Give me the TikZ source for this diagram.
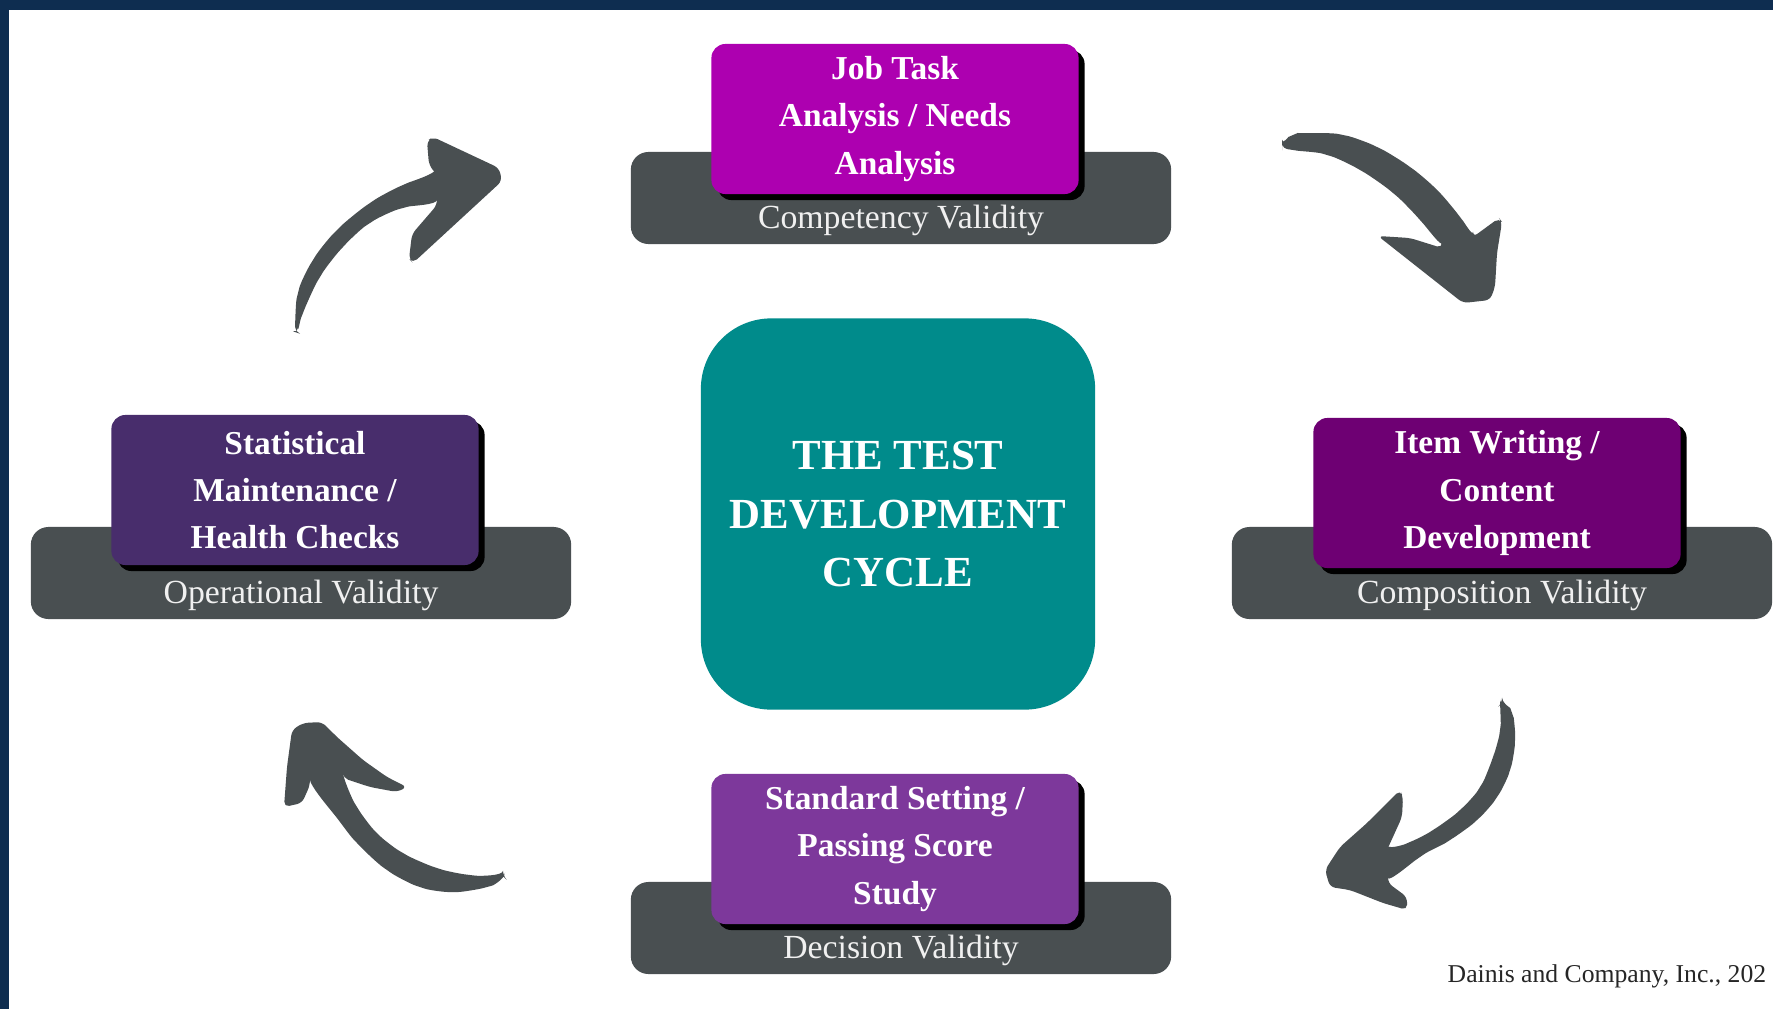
\documentclass[tikz,border=0pt]{standalone}
\usepackage{fontspec}
\setmainfont{Liberation Serif}
\usetikzlibrary{positioning,shadows}
\definecolor{tdnavy}{RGB}{14,45,80}
\definecolor{tdgray}{RGB}{73,79,81}
\definecolor{tdmagenta}{RGB}{173,0,176}
\definecolor{tdplum}{RGB}{110,0,115}
\definecolor{tdviolet}{RGB}{125,56,155}
\definecolor{tdindigo}{RGB}{72,45,108}
\definecolor{tdteal}{RGB}{0,139,139}
\tikzset{
  stage/.style={rounded corners=4pt, minimum width=3.67cm, minimum height=1.5cm,
    align=center, text=white, inner sep=0pt,
    font=\fontsize{9.5}{13.4}\selectfont\bfseries,
    drop shadow={shadow xshift=0.06cm, shadow yshift=-0.06cm, fill=black, opacity=1}},
  bar/.style={fill=tdgray, rounded corners=5pt, minimum width=5.4cm,
    minimum height=0.92cm, inner sep=0pt},
  validity/.style={text=white!94!black, font=\fontsize{9.6}{11}\selectfont, inner sep=0pt},
  core/.style={fill=tdteal, rounded corners=20pt, minimum width=3.94cm,
    minimum height=3.91cm, align=center, text=white,
    font=\fontsize{12.2}{16.6}\selectfont\bfseries},
  turn/.style={fill=tdgray, rounded corners=1.5pt}
}

\begin{document}
\begin{tikzpicture}[x=0.01cm, y=-0.01cm]
% page and frame
\fill[white] (0,0) rectangle (1773,1009);
\fill[tdnavy] (0,0) rectangle (1773,10);
\fill[tdnavy] (0,0) rectangle (9,1009);
\useasboundingbox (0,0) rectangle (1773,1009);

% validity bars
\node[bar] (topbar) at (901,198) {};
\node[bar] (rightbar) at (1502,573) {};
\node[bar] (botbar) at (901,928) {};
\node[bar] (leftbar) at (301,573) {};

% stages of the cycle
\node[stage, fill=tdmagenta] (jta) at (895,119) {Job Task\\Analysis / Needs\\Analysis};
\node[stage, fill=tdplum] (item) at (1497,493) {Item Writing /\\Content\\Development};
\node[stage, fill=tdviolet] (std) at (895,849) {Standard Setting /\\Passing Score\\Study};
\node[stage, fill=tdindigo] (stat) at (295,490) {Statistical\\Maintenance /\\Health Checks};

\node[validity, above=0.08cm of topbar.south] (topval) {Competency Validity};
\node[validity, above=0.08cm of rightbar.south] (rightval) {Composition Validity};
\node[validity, above=0.08cm of botbar.south] (botval) {Decision Validity};
\node[validity, above=0.08cm of leftbar.south] (leftval) {Operational Validity};

% centre
\node[core] (cycle) at (898,514) {THE TEST\\DEVELOPMENT\\CYCLE};

% curved arrows
\fill[turn] plot[smooth] coordinates {(295,332) (298,293) (313,260) (337,230) (370,203) (403,185) (436,174)}
  -- (429,165) -- (427,141) -- (433,137) -- (499,168) -- (502,181) -- (413,263) -- (409,259) -- (412,234)
  -- plot[smooth] coordinates {(437,205) (403,208) (370,223) (343,247) (320,277) (303,313) (298,333)} -- cycle;

\fill[turn] plot[smooth] coordinates {(1282,145) (1293,135) (1310,133) (1343,135) (1377,147) (1410,167) (1437,190) (1460,217) (1473,237)}
  -- (1499,218) -- (1502,222) -- (1497,253) -- (1495,287) -- (1490,300) -- (1463,303) -- (1378,236) -- (1410,238)
  -- plot[smooth] coordinates {(1442,248) (1420,220) (1393,193) (1360,170) (1327,155) (1293,150) (1282,148)} -- cycle;

\fill[turn] plot[smooth] coordinates {(1502,703) (1512,713) (1515,740) (1510,770) (1497,797) (1477,820) (1450,840) (1420,857) (1388,883)}
  -- (1407,897) -- (1407,910) -- (1383,903) -- (1350,890) -- (1330,887) -- (1325,870) -- (1340,847) -- (1367,823)
  -- (1400,790) -- (1403,797) -- (1402,817)
  -- plot[smooth] coordinates {(1387,850) (1410,842) (1433,830) (1460,810) (1480,787) (1493,757) (1500,730) (1500,705)} -- cycle;

\fill[turn] plot[smooth] coordinates {(505,878) (487,887) (453,892) (420,887) (387,870) (357,843) (333,813) (310,785)}
  -- (302,803) -- (284,807) -- (287,767) -- (292,730) -- (303,723) -- (322,722) -- (337,737) -- (363,760)
  -- (387,777) -- (407,787) -- (397,792) -- (370,787)
  -- plot[smooth] coordinates {(343,778) (357,807) (377,833) (403,853) (437,868) (470,875) (503,876)} -- cycle;

% credit line
\node[anchor=west, inner sep=0pt, text=black!85, font=\fontsize{7.3}{9}\selectfont] (credit) at (1447,976) {Dainis and Company, Inc., 202};
\end{tikzpicture}
\end{document}
